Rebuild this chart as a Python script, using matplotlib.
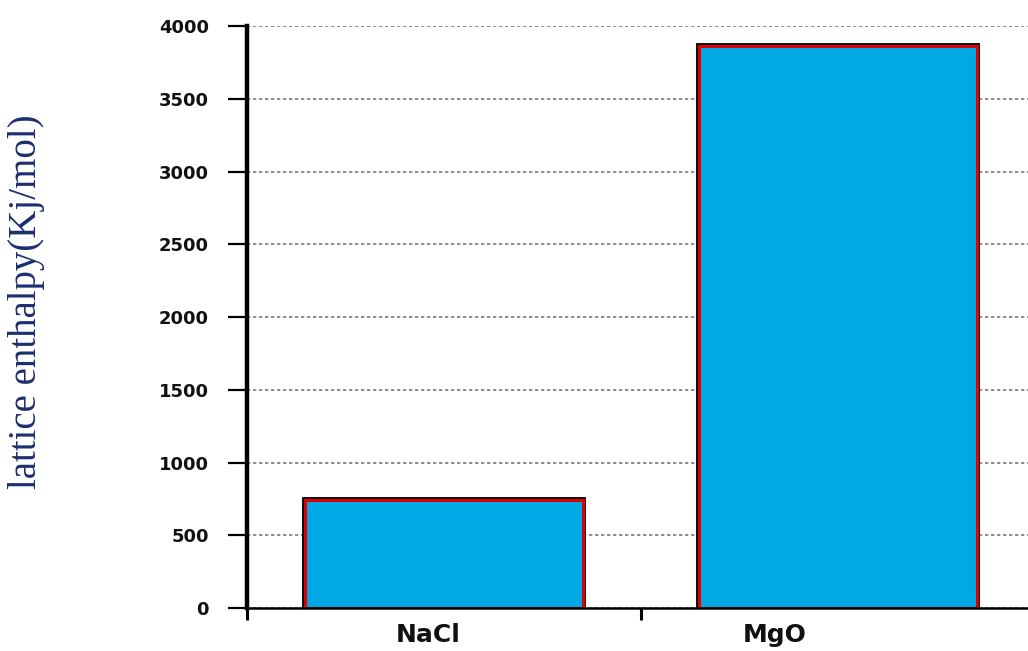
import matplotlib
matplotlib.use("Agg")
import matplotlib.pyplot as plt
import matplotlib.patheffects as pe
from matplotlib.transforms import ScaledTranslation

categories = ["NaCl", "MgO"]
values = [745, 3865]
yticks = [0, 500, 1000, 1500, 2000, 2500, 3000, 3500, 4000]
ylabel = "lattice enthalpy(Kj/mol)"

W, H = 1028, 651
fig = plt.figure(figsize=(W / 100, H / 100), dpi=100)
ax = fig.add_axes([247 / W, (H - 608) / H, (1035 - 247) / W, 582 / H])

x = list(range(len(categories)))
bars = ax.bar(x, values, width=0.705, color="#00A8E6", edgecolor="#E00000",
              linewidth=2.2, zorder=3)
for b in bars:
    b.set_path_effects([pe.Stroke(linewidth=4.2, foreground="black"), pe.Normal()])

ax.set_xlim(-0.5, 1.5)
ax.set_ylim(0, 4000)
ax.set_yticks(yticks)
ax.set_yticklabels([str(v) for v in yticks])
ax.yaxis.grid(True, color="#7a7a7a", linestyle=(0, (2.0, 1.6)), linewidth=1.2, zorder=0)
ax.set_axisbelow(True)

# x ticks between categories, labels at category centres
ax.set_xticks([-0.5, 0.5, 1.5])
ax.set_xticklabels([])
ax.set_xticks(x, minor=True)
ax.set_xticklabels(categories, minor=True, fontsize=18, fontweight="bold",
                   family="DejaVu Sans", color="#111111")
ax.tick_params(axis="x", which="minor", length=0, pad=11)
ax.tick_params(axis="x", which="major", length=8.5, width=2.2, direction="out", color="black")
offsets = [-16, -63]
for lab, off in zip(ax.xaxis.get_minorticklabels(), offsets):
    lab.set_transform(lab.get_transform() + ScaledTranslation(off / 100, 0, fig.dpi_scale_trans))

ax.tick_params(axis="y", length=13.5, width=1.6, direction="out", pad=14,
               labelsize=13, color="black")
for lab in ax.get_yticklabels():
    lab.set_fontweight("bold")
    lab.set_color("#111111")

for s in ["top", "right"]:
    ax.spines[s].set_visible(False)
ax.spines["left"].set_linewidth(3.2)
ax.spines["bottom"].set_linewidth(1.8)
ax.spines["left"].set_zorder(4)
ax.spines["bottom"].set_zorder(4)

fig.text(27 / W, 1 - 302 / H, ylabel, rotation=90, ha="center", va="center",
         fontsize=28, family="Liberation Serif", color="#1c2f6e")

fig.savefig("out.png", dpi=100)
